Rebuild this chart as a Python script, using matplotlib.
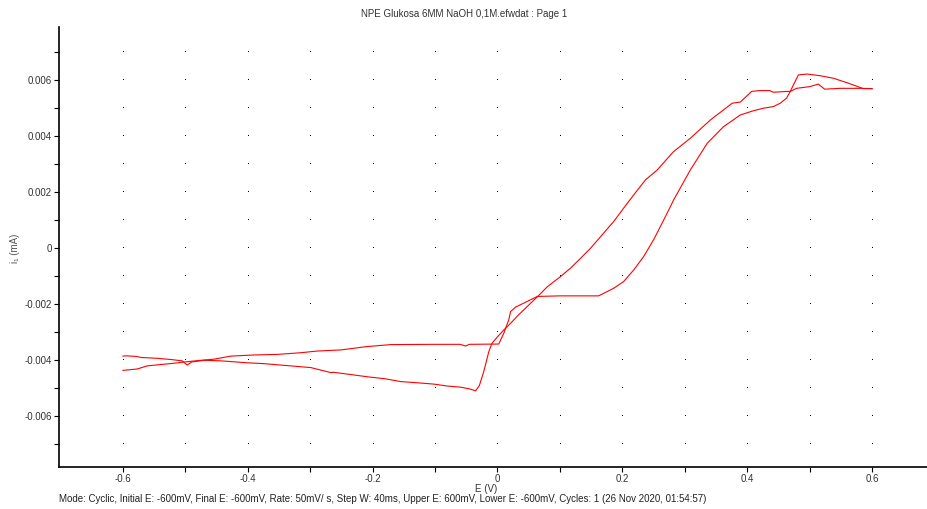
import numpy as np
import matplotlib
matplotlib.use("Agg")
import matplotlib.pyplot as plt
from matplotlib.ticker import MultipleLocator, FixedLocator, FuncFormatter

plt.rcParams['font.family'] = ['Liberation Sans', 'DejaVu Sans']

# forward scan, -0.6 V -> 0.6 V (E in V, i in mA)
E_fwd = [-0.600, -0.577, -0.561, -0.534, -0.512, -0.497, -0.475, -0.454, -0.427, -0.390,
         -0.353, -0.315, -0.289, -0.251, -0.209, -0.171, -0.102, -0.060, -0.051, -0.045,
         0.002, 0.010, 0.018, 0.021, 0.029, 0.042, 0.061, 0.064, 0.100, 0.130,
         0.162, 0.170, 0.186, 0.202, 0.218, 0.234, 0.250, 0.266, 0.277, 0.282,
         0.309, 0.336, 0.362, 0.389, 0.410, 0.426, 0.442, 0.453, 0.463, 0.469,
         0.474, 0.482, 0.496, 0.517, 0.538, 0.560, 0.570, 0.586, 0.600]
I_fwd = [-0.00436, -0.00431, -0.00420, -0.00414, -0.00409, -0.00405, -0.00400, -0.00396, -0.00385, -0.00381,
         -0.00379, -0.00373, -0.00367, -0.00363, -0.00351, -0.00344, -0.00343, -0.00343, -0.00349, -0.00343,
         -0.00342, -0.00304, -0.00256, -0.00226, -0.00210, -0.00196, -0.00175, -0.00172, -0.00170, -0.00170,
         -0.00170, -0.00161, -0.00143, -0.00119, -0.00078, -0.00030, 0.00030, 0.00100, 0.00149, 0.00172,
         0.00280, 0.00375, 0.00434, 0.00476, 0.00491, 0.00500, 0.00506, 0.00518, 0.00536, 0.00560,
         0.00583, 0.00619, 0.00622, 0.00616, 0.00607, 0.00591, 0.00583, 0.00570, 0.00570]

# reverse scan, 0.6 V -> -0.6 V
E_rev = [0.600, 0.581, 0.549, 0.524, 0.514, 0.500, 0.479, 0.469, 0.463, 0.442,
         0.436, 0.420, 0.407, 0.389, 0.376, 0.362, 0.341, 0.309, 0.282, 0.256,
         0.237, 0.218, 0.202, 0.186, 0.170, 0.149, 0.133, 0.117, 0.101, 0.080,
         0.064, 0.042, 0.031, 0.021, 0.010, 0.000, -0.009, -0.014, -0.022, -0.029,
         -0.035, -0.045, -0.059, -0.080, -0.102, -0.130, -0.155, -0.180, -0.208, -0.238,
         -0.262, -0.267, -0.299, -0.342, -0.374, -0.400, -0.443, -0.470, -0.490, -0.497,
         -0.505, -0.520, -0.544, -0.570, -0.580, -0.595, -0.600]
I_rev = [0.00570, 0.00571, 0.00571, 0.00568, 0.00586, 0.00577, 0.00571, 0.00560, 0.00560, 0.00557,
         0.00563, 0.00563, 0.00560, 0.00522, 0.00518, 0.00494, 0.00458, 0.00393, 0.00345, 0.00280,
         0.00244, 0.00190, 0.00143, 0.00095, 0.00054, 0.00000, -0.00036, -0.00071, -0.00101, -0.00137,
         -0.00173, -0.00220, -0.00244, -0.00268, -0.00292, -0.00316, -0.00340, -0.00370, -0.00440, -0.00490,
         -0.00509, -0.00502, -0.00496, -0.00492, -0.00485, -0.00480, -0.00476, -0.00466, -0.00459, -0.00450,
         -0.00443, -0.00444, -0.00426, -0.00418, -0.00412, -0.00409, -0.00402, -0.00400, -0.00406, -0.00417,
         -0.00402, -0.00398, -0.00393, -0.00390, -0.00386, -0.00384, -0.00385]

x_minor = np.arange(-6, 7) / 10
y_minor = np.arange(-7, 8) / 1000

title = "NPE Glukosa 6MM NaOH 0,1M.efwdat : Page 1"
footer = ("Mode: Cyclic, Initial E: -600mV, Final E: -600mV, Rate: 50mV/ s, Step W: 40ms, "
          "Upper E: 600mV, Lower E: -600mV, Cycles: 1 (26 Nov 2020, 01:54:57)")

fig = plt.figure(figsize=(9.28, 5.09), dpi=100)
ax = fig.add_axes([59/928, 1-467/509, 1-59/928, (467-27)/509])

ax.set_xlim(-0.7024, 0.6896)
ax.set_ylim(-0.00781, 0.0079)

# dotted grid: one dot at each minor tick crossing
gx, gy = np.meshgrid(x_minor, y_minor)
ax.plot(gx.ravel(), gy.ravel(), ',', color='black')

ax.plot(E_fwd, I_fwd, color='#ff0000', lw=0.8)
ax.plot(E_rev, I_rev, color='#ff0000', lw=0.8)

for s in ['top', 'right']:
    ax.spines[s].set_visible(False)
for s in ['left', 'bottom']:
    ax.spines[s].set_linewidth(1.2)

ax.xaxis.set_major_locator(MultipleLocator(0.2))
ax.xaxis.set_minor_locator(FixedLocator(x_minor))
ax.yaxis.set_major_locator(MultipleLocator(0.002))
ax.yaxis.set_minor_locator(FixedLocator(y_minor))
ax.xaxis.set_major_formatter(FuncFormatter(lambda v, p: f"{round(v, 1):g}"))
ax.yaxis.set_major_formatter(FuncFormatter(lambda v, p: f"{round(v, 3):g}"))
ax.tick_params(which='both', direction='out', length=3.5, width=0.8, labelsize=7,
               colors='black', labelcolor='#333333', pad=1.5)

fig.text(0.5, 1-14/509, title, ha='center', va='center', fontsize=7, color='#333333')
fig.text(486/928, 1-489/509, "E (V)", ha='center', va='center', fontsize=7, color='#333333')
fig.text(15/928, 1-248/509, "i\u2081 (mA)", ha='center', va='center', rotation=90,
         fontsize=7, color='#555555')
fig.text(59/928, 1-499/509, footer, ha='left', va='center', fontsize=7, color='#222222')

fig.savefig("out.png", dpi=100)
